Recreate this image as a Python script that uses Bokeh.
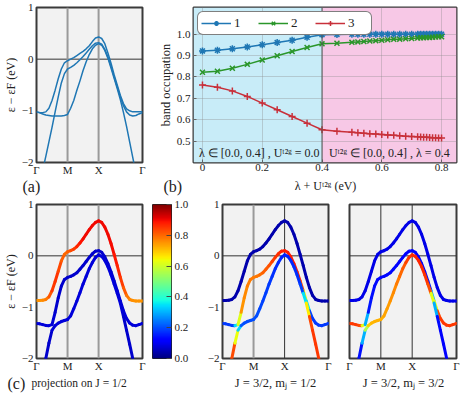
import numpy as np
from bokeh.plotting import figure
from bokeh.layouts import row, column
from bokeh.models import (ColumnDataSource, FixedTicker, Span, Label, BoxAnnotation,
                          LinearColorMapper, Legend, LegendItem, Range1d)
from bokeh.transform import linear_cmap
from bokeh.embed import file_html
from bokeh.resources import INLINE

# ---------------- data ----------------
# k-path coordinate: Gamma(0) - M(1) - X(2) - Gamma(2+sqrt2)
K = [0.0, 0.1, 0.2, 0.3, 0.4, 0.5, 0.6, 0.7, 0.8, 0.9, 1.0,
     1.1, 1.2, 1.3, 1.4, 1.5, 1.6, 1.7, 1.8, 1.9, 2.0,
     2.1, 2.2, 2.3, 2.4, 2.5, 2.6, 2.7, 2.8, 2.9, 3.0, 3.1, 3.2, 3.3, 3.4, 3.414]
K_TICKS = [0.0, 1.0, 2.0, 3.414]
K_LABELS = ["Γ", "M", "X", "Γ"]
E_TICKS = [-2, -1, 0, 1]
E_TICK_LABELS = ["−2", "−1", "0", "1"]

# panel (a): bands without projection
A1 = [-1.02, -1.03, -1.035, -1.02, -0.95, -0.80, -0.60, -0.38, -0.19, -0.07, -0.03,
      0.0, 0.03, 0.07, 0.11, 0.15, 0.20, 0.26, 0.34, 0.41, 0.43,
      0.40, 0.30, 0.12, -0.08, -0.30, -0.50, -0.70, -0.86, -0.96, -1.00, -1.02, -1.02, -1.02, -1.02, -1.02]
A2 = [-2.9, -2.55, -2.15, -1.88, -1.60, -1.32, -1.02, -0.73, -0.46, -0.28, -0.19,
      -0.16, -0.12, -0.07, -0.01, 0.05, 0.12, 0.19, 0.26, 0.31, 0.32,
      0.29, 0.19, 0.04, -0.14, -0.34, -0.54, -0.73, -0.90, -1.02, -1.08, -1.10, -1.09, -1.06, -1.04, -1.03]
A3 = [-1.02, -1.04, -1.06, -1.08, -1.09, -1.10, -1.10, -1.10, -1.10, -1.09, -1.07,
      -0.95, -0.80, -0.60, -0.42, -0.22, -0.05, 0.09, 0.20, 0.27, 0.30,
      0.27, 0.17, 0.02, -0.17, -0.37, -0.57, -0.78, -1.03, -1.30, -1.60, -1.90, -2.20, -2.50, -2.80, -2.85]

# panels (c)-(e): bands with spin-orbit coupling
E1 = [-0.87, -0.87, -0.865, -0.85, -0.80, -0.68, -0.50, -0.30, -0.10, 0.03, 0.08,
      0.10, 0.13, 0.18, 0.25, 0.33, 0.42, 0.51, 0.59, 0.65, 0.68,
      0.65, 0.56, 0.42, 0.24, 0.03, -0.19, -0.42, -0.62, -0.77, -0.85, -0.87, -0.88, -0.88, -0.88, -0.88]
E2 = [-1.32, -1.325, -1.34, -1.355, -1.36, -1.34, -1.10, -0.82, -0.59, -0.46, -0.42,
      -0.40, -0.37, -0.33, -0.26, -0.19, -0.11, -0.03, 0.04, 0.09, 0.10,
      0.07, -0.02, -0.15, -0.31, -0.49, -0.68, -0.88, -1.07, -1.22, -1.31, -1.35, -1.36, -1.34, -1.32, -1.32]
E3 = [-3.0, -2.65, -2.32, -2.0, -1.70, -1.45, -1.36, -1.31, -1.28, -1.26, -1.24,
      -1.17, -1.03, -0.88, -0.72, -0.55, -0.40, -0.25, -0.13, -0.03, 0.02,
      -0.01, -0.09, -0.21, -0.37, -0.55, -0.73, -0.92, -1.18, -1.45, -1.72, -2.0, -2.3, -2.6, -2.9, -2.95]

# projection weights, J = 1/2
WC1 = [0.75, 0.75, 0.76, 0.77, 0.80, 0.84, 0.86, 0.85, 0.82, 0.80, 0.80,
       0.82, 0.84, 0.86, 0.88, 0.90, 0.90, 0.90, 0.90, 0.90, 0.90,
       0.90, 0.90, 0.90, 0.90, 0.89, 0.88, 0.86, 0.83, 0.80, 0.77, 0.76, 0.75, 0.75, 0.75, 0.75]
WC2 = [0.08, 0.08, 0.08, 0.08, 0.08, 0.08, 0.07, 0.07, 0.07, 0.07, 0.07,
       0.07, 0.07, 0.07, 0.07, 0.07, 0.07, 0.07, 0.07, 0.07, 0.07,
       0.07, 0.07, 0.07, 0.07, 0.07, 0.07, 0.07, 0.08, 0.08, 0.08, 0.08, 0.08, 0.08, 0.08, 0.08]
WC3 = [0.07, 0.07, 0.07, 0.07, 0.07, 0.07, 0.08, 0.08, 0.08, 0.08, 0.08,
       0.08, 0.08, 0.08, 0.08, 0.08, 0.08, 0.08, 0.08, 0.08, 0.08,
       0.08, 0.08, 0.08, 0.08, 0.08, 0.08, 0.08, 0.07, 0.07, 0.07, 0.07, 0.07, 0.07, 0.07, 0.07]
# J = 3/2, m_j = 1/2
WD1 = [0.04, 0.04, 0.04, 0.04, 0.04, 0.04, 0.04, 0.04, 0.04, 0.04, 0.04,
       0.04, 0.04, 0.04, 0.04, 0.04, 0.04, 0.04, 0.04, 0.04, 0.04,
       0.04, 0.04, 0.04, 0.04, 0.04, 0.04, 0.04, 0.04, 0.04, 0.04, 0.04, 0.04, 0.04, 0.04, 0.04]
WD2 = [0.18, 0.18, 0.18, 0.18, 0.20, 0.50, 0.74, 0.76, 0.77, 0.78, 0.78,
       0.78, 0.79, 0.80, 0.81, 0.82, 0.83, 0.85, 0.86, 0.87, 0.88,
       0.88, 0.88, 0.88, 0.88, 0.87, 0.80, 0.50, 0.20, 0.18, 0.18, 0.18, 0.18, 0.18, 0.18, 0.18]
WD3 = [0.85, 0.85, 0.85, 0.84, 0.82, 0.45, 0.22, 0.20, 0.20, 0.20, 0.20,
       0.20, 0.20, 0.19, 0.19, 0.18, 0.18, 0.17, 0.17, 0.16, 0.16,
       0.16, 0.16, 0.17, 0.17, 0.18, 0.20, 0.50, 0.82, 0.85, 0.85, 0.85, 0.85, 0.85, 0.85, 0.85]
# J = 3/2, m_j = 3/2
WE1 = [0.09, 0.09, 0.09, 0.09, 0.09, 0.09, 0.09, 0.09, 0.09, 0.09, 0.09,
       0.09, 0.09, 0.09, 0.09, 0.09, 0.09, 0.09, 0.09, 0.09, 0.09,
       0.09, 0.09, 0.09, 0.09, 0.09, 0.09, 0.09, 0.09, 0.09, 0.09, 0.09, 0.09, 0.09, 0.09, 0.09]
WE2 = [0.85, 0.85, 0.85, 0.84, 0.82, 0.45, 0.15, 0.14, 0.14, 0.13, 0.13,
       0.13, 0.13, 0.13, 0.13, 0.13, 0.12, 0.12, 0.12, 0.12, 0.12,
       0.12, 0.12, 0.12, 0.13, 0.14, 0.16, 0.45, 0.82, 0.85, 0.85, 0.85, 0.85, 0.85, 0.85, 0.85]
WE3 = [0.12, 0.12, 0.12, 0.13, 0.15, 0.45, 0.68, 0.71, 0.72, 0.72, 0.72,
       0.73, 0.74, 0.75, 0.76, 0.77, 0.79, 0.81, 0.83, 0.85, 0.86,
       0.87, 0.87, 0.87, 0.86, 0.85, 0.80, 0.45, 0.15, 0.12, 0.12, 0.12, 0.12, 0.12, 0.12, 0.12]

# panel (b): band occupation
X_OCC = [0.0, 0.05, 0.1, 0.15, 0.2, 0.25, 0.3, 0.35, 0.4, 0.45, 0.5,
         0.52, 0.54, 0.56, 0.58, 0.6, 0.62, 0.64, 0.66, 0.68, 0.70, 0.72,
         0.73, 0.74, 0.75, 0.76, 0.77, 0.78, 0.79, 0.80]
OCC1 = [0.922, 0.925, 0.932, 0.940, 0.951, 0.961, 0.972, 0.986, 0.998, 0.999, 1.0,
        1.0, 1.0, 1.0, 1.0, 1.0, 1.0, 1.0, 1.0, 1.0, 1.0, 1.0,
        1.0, 1.0, 1.0, 1.0, 1.0, 1.0, 1.0, 1.0]
OCC2 = [0.822, 0.827, 0.841, 0.859, 0.879, 0.899, 0.919, 0.938, 0.955, 0.958, 0.962,
        0.964, 0.966, 0.968, 0.970, 0.972, 0.974, 0.976, 0.977, 0.979, 0.980, 0.982,
        0.983, 0.984, 0.985, 0.985, 0.986, 0.987, 0.988, 0.988]
OCC3 = [0.762, 0.752, 0.735, 0.709, 0.678, 0.647, 0.615, 0.584, 0.553, 0.546, 0.541,
        0.539, 0.537, 0.535, 0.533, 0.531, 0.529, 0.527, 0.525, 0.523, 0.522, 0.520,
        0.519, 0.518, 0.518, 0.517, 0.516, 0.516, 0.515, 0.515]
OCC_LABELS = ["1", "2", "3"]
OCC_XTICKS = [0.0, 0.2, 0.4, 0.6, 0.8]
OCC_XTICK_LABELS = ["0", "0.2", "0.4", "0.6", "0.8"]
OCC_YTICKS = [0.5, 0.6, 0.7, 0.8, 0.9, 1.0]
OCC_YTICK_LABELS = ["0.5", "0.6", "0.7", "0.8", "0.9", "1.0"]
SPLIT = 0.4
CB_TICKS = [0.0, 0.2, 0.4, 0.6, 0.8, 1.0]
CB_TICK_LABELS = ["0.0", "0.2", "0.4", "0.6", "0.8", "1.0"]

# ---------------- style ----------------
SERIF = "Liberation Serif"
TXT = "#222222"
BAND_BG = "#f2f2f2"
FRAME = "#3a3a3a"
CYAN = "#c8ecf8"
PINK = "#f7c8e6"
C_OCC = ["#1f77b4", "#2a962a", "#c8303a"]
BLUE = "#1f77b4"


def jet_color(v):
    def interp(pts, v):
        for (x0, y0), (x1, y1) in zip(pts[:-1], pts[1:]):
            if x0 <= v <= x1:
                return y0 + (y1 - y0) * (v - x0) / (x1 - x0)
        return pts[-1][1]
    r = interp([(0, 0), (0.35, 0), (0.66, 1), (0.89, 1), (1, 0.5)], v)
    g = interp([(0, 0), (0.125, 0), (0.375, 1), (0.64, 1), (0.91, 0), (1, 0)], v)
    b = interp([(0, 0.5), (0.11, 1), (0.34, 1), (0.65, 0), (1, 0)], v)
    return "#%02x%02x%02x" % (round(255 * r), round(255 * g), round(255 * b))


JET = [jet_color(i / 255) for i in range(256)]

# layout sizes (bokeh's page template has no body margin)
TOTAL_W = 462
HT, TT, BT = 178, 7, 16      # top row figures: height, top border, bottom border
HB, TB, BB = 178, 8, 16      # bottom row figures
STRIP_T, STRIP_B = 18, 23    # caption strips under each row


def style_axes(p, size="11px"):
    for ax in p.axis:
        ax.axis_line_color = None
        ax.major_tick_out = 0
        ax.major_tick_in = 0
        ax.minor_tick_line_color = None
        ax.major_label_text_font = SERIF
        ax.major_label_text_font_size = size
        ax.major_label_text_color = TXT
        ax.axis_label_text_font = SERIF
        ax.axis_label_text_font_style = "normal"
        ax.axis_label_text_font_size = size
        ax.axis_label_text_color = TXT
        ax.major_label_standoff = 3
        ax.axis_label_standoff = 2


def band_fig(width, left, right, height, top, bottom, span_styles, show_y=True, ylabel=None):
    p = figure(width=width, height=height, x_range=Range1d(K[0], K[-1]), y_range=Range1d(-2, 1),
               output_backend="svg", toolbar_location=None,
               min_border_left=left, min_border_right=right,
               min_border_top=top, min_border_bottom=bottom,
               background_fill_color=BAND_BG, border_fill_color="white",
               outline_line_color=FRAME, outline_line_width=2)
    p.grid.visible = False
    style_axes(p)
    p.xaxis.ticker = FixedTicker(ticks=K_TICKS)
    p.xaxis.major_label_overrides = {k: l for k, l in zip(K_TICKS, K_LABELS)}
    p.xaxis.major_label_standoff = 1
    p.yaxis.ticker = FixedTicker(ticks=E_TICKS)
    p.yaxis.major_label_overrides = {t: l for t, l in zip(E_TICKS, E_TICK_LABELS)}
    if not show_y:
        p.yaxis.visible = False
    if ylabel:
        p.yaxis.axis_label = ylabel
        p.yaxis.axis_label_text_font_size = "12px"
        p.yaxis.axis_label_standoff = 1
    p.add_layout(Span(location=0, dimension="width", line_color="#333333",
                      line_width=1, level="underlay"))
    for loc, (col, lw) in zip(K_TICKS[1:3], span_styles):
        p.add_layout(Span(location=loc, dimension="height", line_color=col,
                          line_width=lw, level="underlay"))
    return p


def strip(height, texts):
    """A blank full-width band that holds the panel tags and captions."""
    s = figure(width=TOTAL_W, height=height, x_range=Range1d(0, TOTAL_W), y_range=Range1d(0, height),
               output_backend="svg", toolbar_location=None,
               x_axis_location=None, y_axis_location=None, min_border=0,
               outline_line_color=None, background_fill_color="white")
    s.grid.visible = False
    for text, x, y, size, align in texts:
        s.add_layout(Label(x=x, y=y, text=text, text_font=SERIF, text_font_size=size,
                           text_align=align, text_baseline="middle", text_color=TXT))
    return s


def colored_bands(p, bands, weights):
    for E, W in zip(bands, weights):
        src = ColumnDataSource(dict(
            x0=K[:-1], x1=K[1:], y0=E[:-1], y1=E[1:],
            w=[(a + b) / 2 for a, b in zip(W[:-1], W[1:])]))
        p.segment("x0", "y0", "x1", "y1", source=src,
                  line_color=linear_cmap("w", JET, 0, 1),
                  line_width=3, line_cap="round")


GRAY = ("#9a9a9a", 2)
DARK = ("#333333", 1)

# ---------------- (a) ----------------
pa = band_fig(150, 36, 8, HT, TT, BT, [GRAY, GRAY], ylabel="ε − εF (eV)")
for band in (A1, A2, A3):
    pa.line(K, band, line_color=BLUE, line_width=1.5)

# ---------------- (b) ----------------
pb = figure(width=TOTAL_W - 150, height=HT, x_range=Range1d(-0.03, 0.85), y_range=Range1d(0.4, 1.125),
            output_backend="svg", toolbar_location=None,
            min_border_left=43, min_border_right=6, min_border_top=TT, min_border_bottom=BT,
            outline_line_color=FRAME, outline_line_width=2, background_fill_color="white")
pb.add_layout(BoxAnnotation(right=SPLIT, fill_color=CYAN, fill_alpha=1, line_color=None, level="image"))
pb.add_layout(BoxAnnotation(left=SPLIT, fill_color=PINK, fill_alpha=1, line_color=None, level="image"))
style_axes(pb)
xt = FixedTicker(ticks=OCC_XTICKS)
yt = FixedTicker(ticks=OCC_YTICKS)
pb.xaxis.ticker = xt
pb.yaxis.ticker = yt
pb.xgrid.ticker = xt
pb.ygrid.ticker = yt
pb.xaxis.major_label_overrides = {t: l for t, l in zip(OCC_XTICKS, OCC_XTICK_LABELS)}
pb.yaxis.major_label_overrides = {t: l for t, l in zip(OCC_YTICKS, OCC_YTICK_LABELS)}
pb.grid.grid_line_color = "#8a8a8a"
pb.grid.grid_line_alpha = 0.35
pb.xaxis.major_tick_in = 3
pb.yaxis.major_tick_in = 3
pb.axis.major_tick_line_color = "#666666"
pb.xaxis.major_label_standoff = 1
pb.yaxis.axis_label = "band occupation"
pb.yaxis.axis_label_text_font_size = "12.5px"
pb.yaxis.axis_label_standoff = 1
pb.add_layout(Span(location=SPLIT, dimension="height", line_color="#555555", line_width=1))

items = []
for ys, col, mk, lab in zip((OCC1, OCC2, OCC3), C_OCC, ("asterisk", "x", "cross"), OCC_LABELS):
    rl = pb.line(X_OCC, ys, line_color=col, line_width=1.5)
    rs = pb.scatter(X_OCC, ys, marker=mk, size=7, line_color=col, fill_color=col, line_width=1.5)
    items.append(LegendItem(label=lab, renderers=[rl, rs]))
leg = Legend(items=items, location="top_left", orientation="horizontal",
             label_text_font=SERIF, label_text_font_size="13px", label_text_color=TXT,
             border_line_color="black", border_line_width=1, background_fill_alpha=1,
             padding=3, spacing=4, margin=4, glyph_width=30, glyph_height=12, label_standoff=3,
             label_height=12)
try:
    leg.border_radius = 6
except Exception:
    pass
pb.add_layout(leg)
pb.add_layout(Label(x=0.19, y=0.445, text="λ ∈ [0.0, 0.4] , Uᵗ²ᵍ = 0.0", text_font=SERIF,
                    text_font_size="12px", text_align="center", text_baseline="middle",
                    text_color=TXT))
pb.add_layout(Label(x=0.625, y=0.445, text="Uᵗ²ᵍ ∈ [0.0, 0.4] , λ = 0.4", text_font=SERIF,
                    text_font_size="12px", text_align="center", text_baseline="middle",
                    text_color=TXT))

top_strip = strip(STRIP_T, [
    ("(a)", 22, 10, "16px", "left"),
    ("(b)", 163, 10, "16px", "left"),
    ("λ + Uᵗ²ᵍ (eV)", 325, 11, "12px", "center"),
])

# ---------------- (c) ----------------
pc = band_fig(148, 36, 6, HB, TB, BB, [GRAY, GRAY], ylabel="ε − εF (eV)")
colored_bands(pc, (E1, E2, E3), (WC1, WC2, WC3))

# colour bar
cb = figure(width=50, height=HB, x_range=Range1d(0, 1), y_range=Range1d(0, 1),
            output_backend="svg", toolbar_location=None, y_axis_location="right",
            min_border_left=4, min_border_right=27, min_border_top=TB, min_border_bottom=BB,
            outline_line_color="#222222", outline_line_width=1)
cb.image(image=[np.linspace(0, 1, 256).reshape(256, 1)], x=0, y=0, dw=1, dh=1,
         color_mapper=LinearColorMapper(palette=JET, low=0, high=1))
cb.grid.visible = False
cb.xaxis.visible = False
style_axes(cb)
cb.yaxis.ticker = FixedTicker(ticks=CB_TICKS)
cb.yaxis.major_label_overrides = {t: l for t, l in zip(CB_TICKS, CB_TICK_LABELS)}
cb.yaxis.major_tick_in = 5
cb.yaxis.major_tick_line_color = "#444444"

# ---------------- (d) and (e) ----------------
pd_ = band_fig(136, 24, 6, HB, TB, BB, [GRAY, DARK])
colored_bands(pd_, (E1, E2, E3), (WD1, WD2, WD3))
pe = band_fig(TOTAL_W - 148 - 50 - 136, 15, 6, HB, TB, BB, [DARK, DARK], show_y=False)
colored_bands(pe, (E1, E2, E3), (WE1, WE2, WE3))

bottom_strip = strip(STRIP_B, [
    ("(c)", 7, 14, "16px", "left"),
    ("projection on J = 1/2", 31, 15, "11.5px", "left"),
    ("J = 3/2, mⱼ = 1/2", 275, 15, "12.5px", "center"),
    ("J = 3/2, mⱼ = 3/2", 403, 15, "12.5px", "center"),
])

layout = column(row(pa, pb), top_strip, row(pc, cb, pd_, pe), bottom_strip)
open("out.html", "w").write(file_html(layout, INLINE))
